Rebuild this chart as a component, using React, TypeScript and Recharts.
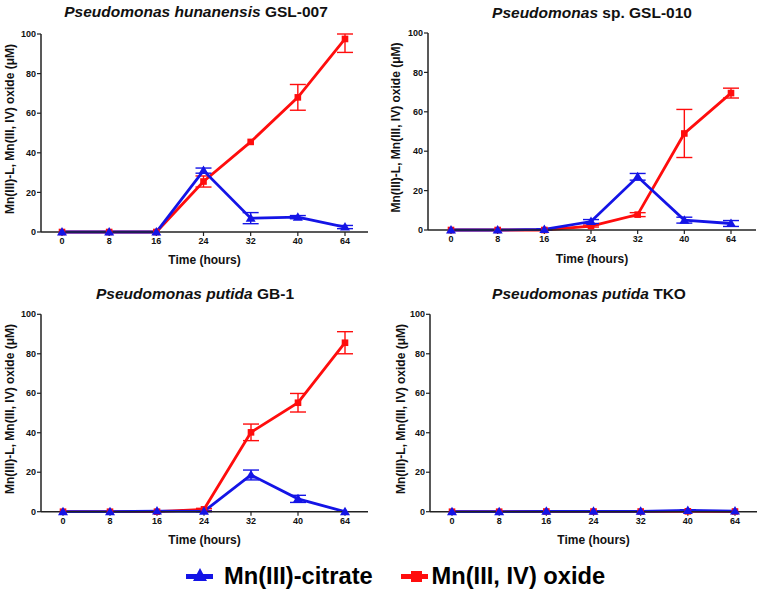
import { LineChart, Line, XAxis, YAxis, ErrorBar } from "recharts";

const times = ["0", "8", "16", "24", "32", "40", "64"];
const yTicks = [0, 20, 40, 60, 80, 100];

// Pseudomonas hunanensis GSL-007
const hunOxide = [0, 0, 0, 25.5, 45.5, 68, 97.5];
const hunOxideErr = [null, null, null, 2.8, null, 6.5, [6.8, 2.5]];
const hunCitrate = [0, 0, 0, 31, 7, 7.5, 2.5];
const hunCitrateErr = [null, null, null, 1.3, 2.8, 0.8, 0.8];

// Pseudomonas sp. GSL-010
const spOxide = [0, 0, 0, 2, 7.8, 49, 69.5];
const spOxideErr = [null, null, null, 0.5, 1, 12.2, 2.5];
const spCitrate = [0, 0, 0.3, 4.3, 27, 5, 3.3];
const spCitrateErr = [null, null, 0.3, 1, 1.7, 1.5, 1.5];

// Pseudomonas putida GB-1
const gbOxide = [0, 0, 0, 1.2, 40.2, 55.2, 85.6];
const gbOxideErr = [null, null, null, 0.5, 4.2, 4.7, 5.6];
const gbCitrate = [0, 0, 0.3, 0.2, 18.6, 6.5, 0];
const gbCitrateErr = [null, null, 0.2, 0.2, 2.5, 1.8, null];

// Pseudomonas putida TKO
const tkoOxide = [0, 0, 0.1, 0.1, 0.1, 0.2, 0.1];
const tkoOxideErr = [null, null, null, null, null, null, null];
const tkoCitrate = [0, 0, 0.2, 0.2, 0.2, 0.6, 0.3];
const tkoCitrateErr = [null, null, null, null, null, 0.4, null];

const RED = "#ff0d0d";
const BLUE = "#1414e6";
const AXIS = "#222";
const FONT = "'Liberation Sans', Arial, sans-serif";
const yLabelText = "Mn(III)-L, Mn(III, IV) oxide (\u03bcM)";

const Square = (p: any) => {
  if (p.cx == null || p.cy == null) return <g key={`s-${p.index}`} />;
  return <rect key={`s-${p.index}`} x={p.cx - 3.3} y={p.cy - 3.3} width={6.6} height={6.6} fill={RED} />;
};

const Triangle = (p: any) => {
  if (p.cx == null || p.cy == null) return <g key={`t-${p.index}`} />;
  const { cx, cy } = p;
  return (
    <polygon
      key={`t-${p.index}`}
      points={`${cx},${cy - 5} ${cx + 5},${cy + 3.5} ${cx - 5},${cy + 3.5}`}
      fill={BLUE}
    />
  );
};

function Panel(props: any) {
  const { left, top, width, height, genus, rest, oxide, oxideErr, citrate, citrateErr, lay } = props;
  const data = times.map((t, i) => ({
    time: t,
    oxide: oxide[i],
    oxideErr: oxideErr[i],
    citrate: citrate[i],
    citrateErr: citrateErr[i],
  }));
  const yLabel = (lp: any) => {
    const vb = lp.viewBox || {};
    const y = vb.y + vb.height / 2 - 4;
    const x = lay.labelX;
    return (
      <text
        x={x}
        y={y}
        transform={`rotate(-90 ${x} ${y})`}
        textAnchor="middle"
        dominantBaseline="central"
        fontSize={12}
        fontWeight="bold"
        fill="#111"
        fontFamily={FONT}
      >
        {yLabelText}
      </text>
    );
  };
  return (
    <div style={{ position: "absolute", left, top, width, height }}>
      <div
        style={{
          position: "absolute",
          left: lay.titleX - 200,
          width: 400,
          top: lay.titleY - 8.8,
          textAlign: "center",
          fontSize: 15.5,
          lineHeight: "18px",
          fontWeight: "bold",
          color: "#111",
          fontFamily: FONT,
          whiteSpace: "nowrap",
        }}
      >
        <i>{genus}</i> {rest}
      </div>
      <LineChart
        width={width}
        height={height}
        data={data}
        margin={{ top: lay.top, right: lay.right, bottom: 0, left: 0 }}
      >
        <XAxis
          dataKey="time"
          type="category"
          interval={0}
          padding={{ left: lay.padL, right: lay.padR }}
          height={lay.xh}
          axisLine={{ stroke: AXIS, strokeWidth: 1.5 }}
          tickLine={{ stroke: AXIS, strokeWidth: 1.2 }}
          tickSize={4}
          tickMargin={2}
          tick={{ fontSize: 9, fontWeight: "bold", fill: "#111", fontFamily: FONT }}
          label={{
            value: "Time (hours)",
            position: "insideBottom",
            offset: lay.xOff,
            fontSize: 12,
            fontWeight: "bold",
            fill: "#111",
            fontFamily: FONT,
          }}
        />
        <YAxis
          type="number"
          domain={[0, 100]}
          ticks={yTicks}
          width={lay.yw}
          axisLine={{ stroke: AXIS, strokeWidth: 1.5 }}
          tickLine={{ stroke: AXIS, strokeWidth: 1.2 }}
          tickSize={4}
          tickMargin={1}
          tick={{ fontSize: 9, fontWeight: "bold", fill: "#111", fontFamily: FONT }}
          label={{ content: yLabel }}
        />
        <Line
          dataKey="oxide"
          stroke={RED}
          strokeWidth={2.8}
          dot={Square}
          activeDot={false}
          isAnimationActive={false}
        >
          <ErrorBar dataKey="oxideErr" direction="y" width={8} stroke={RED} strokeWidth={1.4} />
        </Line>
        <Line
          dataKey="citrate"
          stroke={BLUE}
          strokeWidth={2.8}
          dot={Triangle}
          activeDot={false}
          isAnimationActive={false}
        >
          <ErrorBar dataKey="citrateErr" direction="y" width={8} stroke={BLUE} strokeWidth={1.4} />
        </Line>
      </LineChart>
    </div>
  );
}

export default function App() {
  const legendText = {
    position: "absolute" as const,
    top: 562,
    fontSize: 23.7,
    lineHeight: "28px",
    fontWeight: "bold" as const,
    color: "#000",
    fontFamily: FONT,
    whiteSpace: "nowrap" as const,
  };
  return (
    <div
      style={{
        position: "absolute",
        left: 0,
        top: 0,
        width: 762,
        height: 595,
        background: "#fff",
        overflow: "hidden",
      }}
    >
      <Panel
        left={0}
        top={0}
        width={381}
        height={275}
        genus="Pseudomonas hunanensis"
        rest="GSL-007"
        oxide={hunOxide}
        oxideErr={hunOxideErr}
        citrate={hunCitrate}
        citrateErr={hunCitrateErr}
        lay={{ top: 34, right: 13, yw: 41, xh: 43, padL: 21, padR: 23, xOff: 11, labelX: 9.5, titleX: 196, titleY: 12 }}
      />
      <Panel
        left={381}
        top={0}
        width={381}
        height={275}
        genus="Pseudomonas"
        rest="sp. GSL-010"
        oxide={spOxide}
        oxideErr={spOxideErr}
        citrate={spCitrate}
        citrateErr={spCitrateErr}
        lay={{ top: 33, right: 6, yw: 47, xh: 45, padL: 23, padR: 25, xOff: 12, labelX: 14.5, titleX: 211, titleY: 12.8 }}
      />
      <Panel
        left={0}
        top={275}
        width={381}
        height={280}
        genus="Pseudomonas putida"
        rest="GB-1"
        oxide={gbOxide}
        oxideErr={gbOxideErr}
        citrate={gbCitrate}
        citrateErr={gbCitrateErr}
        lay={{ top: 39.3, right: 13, yw: 41, xh: 43.3, padL: 22, padR: 23, xOff: 11, labelX: 9.5, titleX: 195, titleY: 18.7 }}
      />
      <Panel
        left={381}
        top={275}
        width={381}
        height={280}
        genus="Pseudomonas putida"
        rest="TKO"
        oxide={tkoOxide}
        oxideErr={tkoOxideErr}
        citrate={tkoCitrate}
        citrateErr={tkoCitrateErr}
        lay={{ top: 39.3, right: 5, yw: 49, xh: 43.3, padL: 22, padR: 22, xOff: 11, labelX: 20, titleX: 208, titleY: 18.7 }}
      />
      {/* legend */}
      <svg style={{ position: "absolute", left: 186, top: 566 }} width={28} height={20}>
        <line x1={0} y1={10.5} x2={27} y2={10.5} stroke={BLUE} strokeWidth={5} />
        <polygon points="14,2 21,15 7,15" fill={BLUE} />
      </svg>
      <div style={{ ...legendText, left: 224 }}>Mn(III)-citrate</div>
      <svg style={{ position: "absolute", left: 401, top: 566 }} width={28} height={20}>
        <line x1={0} y1={10.5} x2={27} y2={10.5} stroke={RED} strokeWidth={5} />
        <rect x={10} y={5} width={11} height={11} fill={RED} />
      </svg>
      <div style={{ ...legendText, left: 431.5 }}>Mn(III, IV) oxide</div>
    </div>
  );
}
